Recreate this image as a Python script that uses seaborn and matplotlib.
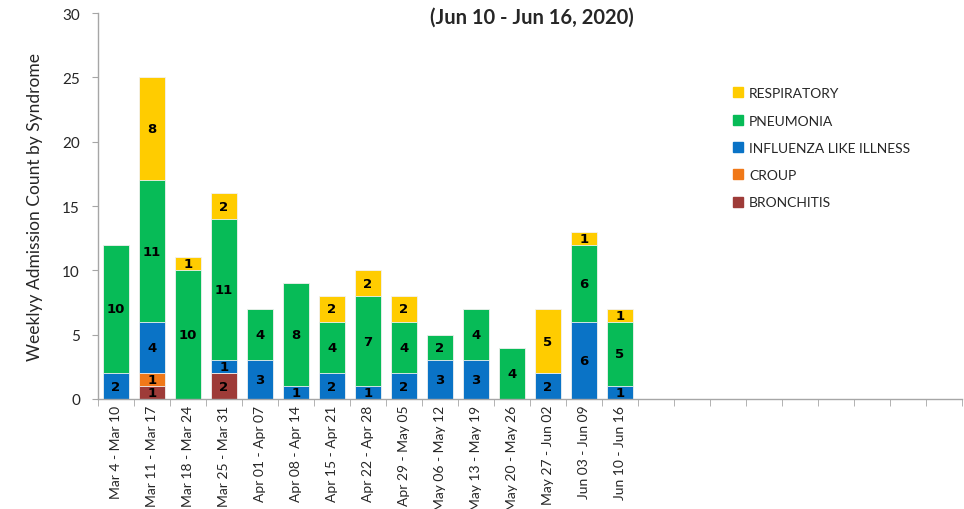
import numpy as np
import pandas as pd
import matplotlib.pyplot as plt
import seaborn as sns
from matplotlib.lines import Line2D

weeks = ["Mar 4 - Mar 10", "Mar 11 - Mar 17", "Mar 18 - Mar 24", "Mar 25 - Mar 31",
         "Apr 01 - Apr 07", "Apr 08 - Apr 14", "Apr 15 - Apr 21", "Apr 22 - Apr 28",
         "Apr 29 - May 05", "May 06 - May 12", "May 13 - May 19", "May 20 - May 26",
         "May 27 - Jun 02", "Jun 03 - Jun 09", "Jun 10 - Jun 16"]
n_slots = 24  # axis keeps room for the rest of the season

syndromes = ["BRONCHITIS", "CROUP", "INFLUENZA LIKE ILLNESS", "PNEUMONIA", "RESPIRATORY"]
bronchitis = [0, 1, 0, 2, 0, 0, 0, 0, 0, 0, 0, 0, 0, 0, 0]
croup = [0, 1, 0, 0, 0, 0, 0, 0, 0, 0, 0, 0, 0, 0, 0]
ili = [2, 4, 0, 1, 3, 1, 2, 1, 2, 3, 3, 0, 2, 6, 1]
pneumonia = [10, 11, 10, 11, 4, 8, 4, 7, 4, 2, 4, 4, 0, 6, 5]
respiratory = [0, 8, 1, 2, 0, 0, 2, 2, 2, 0, 0, 0, 5, 1, 1]
colors = ["#9e3b38", "#f07818", "#0a73c6", "#07bb57", "#ffcc00"]

counts = pd.DataFrame({"BRONCHITIS": bronchitis, "CROUP": croup,
                       "INFLUENZA LIKE ILLNESS": ili, "PNEUMONIA": pneumonia,
                       "RESPIRATORY": respiratory})
slots = [f"s{i}" for i in range(n_slots)]
cum = counts.cumsum(axis=1)
cum["slot"] = slots[:len(weeks)]

sns.set_style("white")
plt.rcParams["font.family"] = ["Lato", "DejaVu Sans"]

fig = plt.figure(figsize=(9.64, 5.10), dpi=100)
ax = fig.add_axes([0.1017, 0.2157, 0.8963, 0.7568])

# draw cumulative totals top layer first so lower layers sit on top
for name, col in reversed(list(zip(syndromes, colors))):
    sns.barplot(data=cum, x="slot", y=name, order=slots, color=col, width=0.72,
                saturation=1, edgecolor="#f2f2f2", linewidth=0.6, ax=ax)

for i in range(len(weeks)):
    base = 0
    for name in syndromes:
        v = counts.loc[i, name]
        if v > 0:
            ax.text(i, base + v / 2, str(v), ha="center", va="center",
                    fontsize=9.5, fontweight="bold", family="DejaVu Sans", color="black")
        base += v

ax.set_xlim(-0.5, n_slots - 0.5)
ax.set_ylim(0, 30)
ax.set_yticks(range(0, 31, 5))
ax.set_xticks(range(n_slots))
ax.set_xticklabels(weeks + [""] * (n_slots - len(weeks)), rotation=90, fontsize=10)
ax.set_xticks(np.arange(-0.5, n_slots), minor=True)
ax.tick_params(axis="x", which="major", length=0, pad=4)
ax.tick_params(axis="x", which="minor", length=5, color="#a6a6a6", direction="out", bottom=True)
ax.tick_params(axis="y", length=4, color="#a6a6a6", direction="out", left=True,
               labelsize=11, pad=9)
ax.set_xlabel("")
ax.set_ylabel("Weeklyy Admission Count by Syndrome", fontsize=12.5, labelpad=14)

sns.despine(ax=ax)
for s in ["left", "bottom"]:
    ax.spines[s].set_color("#a6a6a6")
    ax.spines[s].set_linewidth(1)

handles = [Line2D([], [], marker="s", linestyle="", markersize=7,
                  markerfacecolor=c, markeredgecolor=c) for c in colors]
ax.legend(handles[::-1], syndromes[::-1], loc="upper left", bbox_to_anchor=(0.718, 0.84),
          frameon=False, fontsize=10, handletextpad=0.3, labelspacing=1.1,
          handlelength=1.0)

fig.text(532 / 964, 1 - 18 / 510, "(Jun 10 - Jun 16, 2020)", ha="center", va="center",
         fontsize=14.5, fontweight="bold")

fig.savefig("out.png", dpi=100)
